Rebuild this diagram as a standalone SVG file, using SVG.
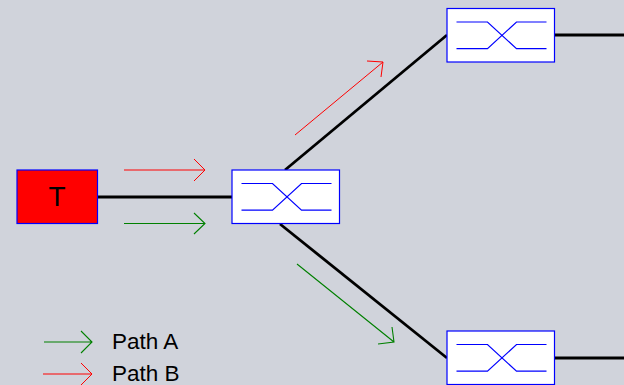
<svg xmlns="http://www.w3.org/2000/svg" width="624" height="385" viewBox="0 0 624 385">
<style>
.bg{fill:#d0d3db}
.box{fill:#fff;stroke:#00f;stroke-width:1.2}
.wg{fill:none;stroke:#00f;stroke-width:1.2}
.link{fill:none;stroke:#000;stroke-width:2.8}
.r{fill:none;stroke:#f00;stroke-width:1}
.g{fill:none;stroke:#008000;stroke-width:1.1}
text{font-family:"Liberation Sans",Arial,sans-serif;fill:#000}
</style>
<defs>
<g id="coupler">
<rect class="box" x="0" y="0" width="107.5" height="53.5"/>
<path class="wg" d="M9.500 13.500H40.500L69.500 40.200H99.500M9.500 40.200H40.500L69.500 13.500H99.500"/>
</g>
</defs>
<rect class="bg" width="624" height="385"/>
<g id="connectors">
<path class="link" d="M97 197H233"/>
<path class="link" d="M285 170L447 35"/>
<path class="link" d="M280 224L447 358"/>
<path class="link" d="M554 35H624"/>
<path class="link" d="M554 358H624"/>
<g id="path-arrows">
<path class="r" d="M124 170H205M194 159L205 170L194 181"/>
<path class="g" d="M124 223.500H205M194 213L205 223.500L194 234"/>
<path class="r" d="M295 135L383 62M367 61L383 62L381 77"/>
<path class="g" d="M297 264L394 342M392 327L394 342L378 344"/>
</g>
</g>
<g id="node-t">
<rect x="17" y="170" width="80.500" height="53.500" fill="#f00" stroke="#00f" stroke-width="1.200"/>
<text x="57" y="206" font-size="28" text-anchor="middle">T</text>
</g>
<g id="coupler-1"><use href="#coupler" x="232" y="170"/></g>
<g id="coupler-2"><use href="#coupler" x="447" y="8.500"/></g>
<g id="coupler-3"><use href="#coupler" x="447" y="331"/></g>
<g id="legend">
<path class="g" d="M44 342H92M81 331L92 342L81 353"/>
<text x="112" y="349" font-size="22.500">Path A</text>
<path class="r" d="M43 374H92M81 363L92 374L81 385"/>
<text x="112" y="381" font-size="22.500">Path B</text>
</g>
</svg>
